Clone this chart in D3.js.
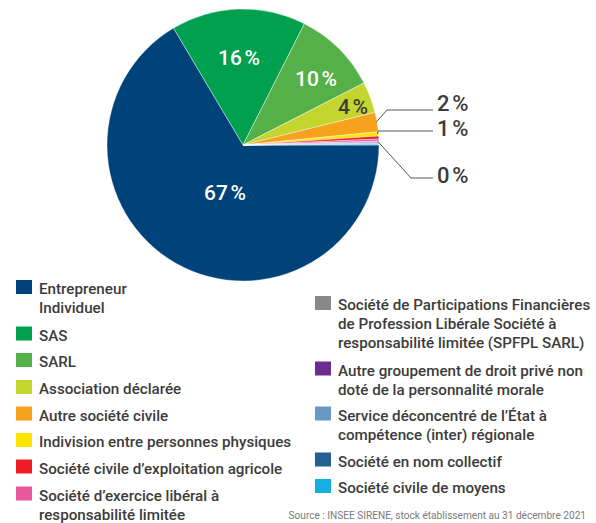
<!DOCTYPE html>
<html>
<head>
<meta charset="utf-8">
<script src="https://cdn.jsdelivr.net/npm/d3@7"></script>
<style>
  body { margin: 0; background: #fff; }
  svg text { font-family: Roboto, "Open Sans", sans-serif; }
</style>
</head>
<body>
<div id="chart"></div>
<script>
// categories in clockwise order, starting at 3 o'clock
const categories = [
  "Entrepreneur Individuel", "SAS", "SARL", "Association déclarée",
  "Autre société civile", "Indivision entre personnes physiques",
  "Société civile d’exploitation agricole",
  "Société d’exercice libéral à responsabilité limitée",
  "SPFPL SARL", "Autre groupement de droit privé",
  "Service déconcentré de l’État", "Société en nom collectif",
  "Société civile de moyens"
];
// shares in %
const values = [66.5, 16, 10, 3.7, 2.3, 0.5, 0.35, 0.25, 0.1, 0.1, 0.1, 0.05, 0.1];
const colors = [
  "#00427a", "#00a04f", "#55b04a", "#c3d52e", "#f6a21d", "#ffe500",
  "#ee1c24", "#ea5a9b", "#87888a", "#6a2c91", "#6899c6", "#265f94", "#17aee3"
];

// labels inside the pie
const innerLabels = ["67\u202F%", "16\u202F%", "10\u202F%", "4\u202F%"];
// labels outside with leader lines: slice index + text
const outerLabels = [
  { i: 4, text: "2\u202F%" },
  { i: 5, text: "1\u202F%" },
  { i: 8, text: "0\u202F%" }
];

// legend, left and right columns (lines of each entry)
const legendLeft = [
  { i: 0, lines: ["Entrepreneur", "Individuel"] },
  { i: 1, lines: ["SAS"] },
  { i: 2, lines: ["SARL"] },
  { i: 3, lines: ["Association déclarée"] },
  { i: 4, lines: ["Autre société civile"] },
  { i: 5, lines: ["Indivision entre personnes physiques"] },
  { i: 6, lines: ["Société civile d’exploitation agricole"] },
  { i: 7, lines: ["Société d’exercice libéral à", "responsabilité limitée"] }
];
const legendRight = [
  { i: 8, lines: ["Société de Participations Financières", "de Profession Libérale Société à", "responsabilité limitée (SPFPL SARL)"] },
  { i: 9, lines: ["Autre groupement de droit privé non", "doté de la personnalité morale"] },
  { i: 10, lines: ["Service déconcentré de l’État à", "compétence (inter) régionale"] },
  { i: 11, lines: ["Société en nom collectif"] },
  { i: 12, lines: ["Société civile de moyens"] }
];
const source = "Source : INSEE SIRENE, stock établissement au 31 décembre 2021";

const width = 596, height = 523;
const cx = 243, cy = 145, radius = 136;
const textColor = "#3c3c3b";

const svg = d3.select("#chart")
  .append("svg")
  .attr("width", width)
  .attr("height", height);

const pie = d3.pie()
  .sort(null)
  .value(d => d)
  .startAngle(Math.PI / 2)
  .endAngle(Math.PI / 2 + 2 * Math.PI);

const arcs = pie(values);
const arc = d3.arc().innerRadius(0).outerRadius(radius);

const g = svg.append("g").attr("transform", `translate(${cx},${cy})`);

g.selectAll("path")
  .data(arcs)
  .enter()
  .append("path")
  .attr("d", arc)
  .attr("fill", (d, i) => colors[i])
  .attr("stroke", "#fff")
  .attr("stroke-width", 0.4);

// inside labels
const innerPos = [[-18, 55], [-4, -80], [73, -59], [110, -31]];
g.selectAll("text.inner")
  .data(innerLabels)
  .enter()
  .append("text")
  .attr("class", "inner")
  .attr("x", (d, i) => innerPos[i][0])
  .attr("y", (d, i) => innerPos[i][1])
  .attr("text-anchor", "middle")
  .attr("font-size", 21)
  .attr("font-weight", 500)
  .attr("fill", (d, i) => i === 3 ? textColor : "#fff")
  .text(d => d);

// outside labels with leader lines (elbow x, elbow y, baseline offset)
const elbows = [[144, -35, 1], [135, -14, 5], [168, 33, 5]];
const lineEnd = 190;
outerLabels.forEach((l, k) => {
  const a = arcs[l.i];
  const mid = (a.startAngle + a.endAngle) / 2;
  const r0 = radius - 1;
  const sx = Math.sin(mid) * r0, sy = -Math.cos(mid) * r0;
  const [ex, ey, off] = elbows[k];
  g.append("polyline")
    .attr("points", [[sx, sy], [ex, ey], [lineEnd, ey]].map(p => p.join(",")).join(" "))
    .attr("fill", "none")
    .attr("stroke", "#555")
    .attr("stroke-width", 1);
  g.append("text")
    .attr("x", lineEnd + 4)
    .attr("y", ey + off)
    .attr("font-size", 22)
    .attr("font-weight", 500)
    .attr("fill", textColor)
    .text(l.text);
});

// legend
function drawLegend(items, x, tops) {
  const lg = svg.append("g");
  items.forEach((item, k) => {
    const top = tops[k];
    lg.append("rect")
      .attr("x", x)
      .attr("y", top)
      .attr("width", 16)
      .attr("height", 14)
      .attr("fill", colors[item.i]);
    const t = lg.append("text")
      .attr("font-size", 15.2)
      .attr("font-weight", 500)
      .attr("fill", textColor);
    item.lines.forEach((line, j) => {
      t.append("tspan")
        .attr("x", x + 23)
        .attr("y", top + 14 + j * 19.2)
        .text(line);
    });
  });
}
drawLegend(legendLeft, 16, [280, 326.5, 353, 380, 406.5, 433, 459.5, 486.5]);
drawLegend(legendRight, 315, [296, 361.5, 406.5, 452.5, 479]);

svg.append("text")
  .attr("x", 586)
  .attr("y", 519)
  .attr("text-anchor", "end")
  .attr("font-size", 10.1)
  .attr("fill", "#7a7a7a")
  .text(source);
</script>
</body>
</html>
